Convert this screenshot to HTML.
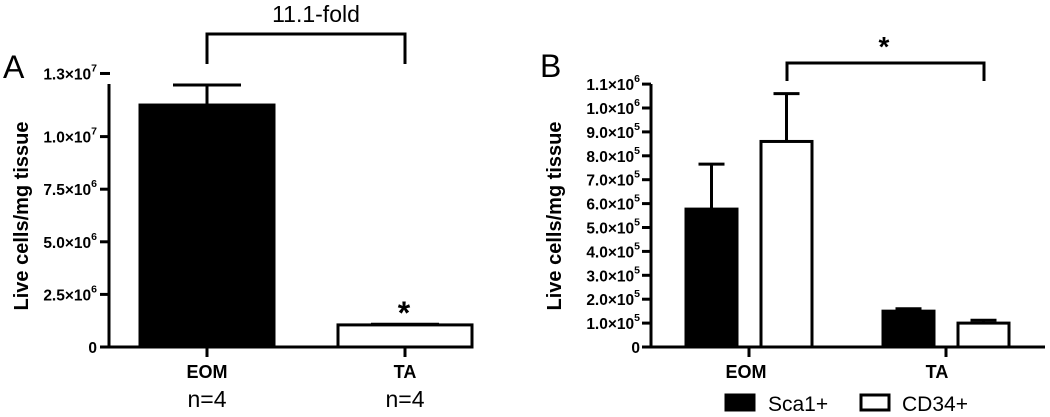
<!DOCTYPE html>
<html><head><meta charset="utf-8"><style>
body{margin:0;background:#fff}
svg text{font-family:"Liberation Sans",Arial,sans-serif}
</style></head><body>
<svg id="c" width="1050" height="412" xmlns="http://www.w3.org/2000/svg"></svg>
<script>
// Panel A data
const aCats=["EOM","TA"];
const aVals=[11.5e6,1.05e6];
const aErr=[0.95e6,0.03e6];
const aTicks=[0,2.5e6,5.0e6,7.5e6,1.0e7,1.3e7];
const aTickLabels=[["0",""],["2.5×10","6"],["5.0×10","6"],["7.5×10","6"],["1.0×10","7"],["1.3×10","7"]];
// Panel B data
const bCats=["EOM","TA"];
const bSeries=["Sca1+","CD34+"];
const bSca=[5.77e5,1.5e5];
const bScaErr=[1.88e5,0.1e5];
const bCd=[8.6e5,1.0e5];
const bCdErr=[2.0e5,0.12e5];
const bTicks=[0,1e5,2e5,3e5,4e5,5e5,6e5,7e5,8e5,9e5,1e6,1.1e6];

const svg=document.getElementById('c');
const NS='http://www.w3.org/2000/svg';
function mk(t,a,p){const e=document.createElementNS(NS,t);for(const k in a)e.setAttribute(k,a[k]);(p||svg).appendChild(e);return e;}
function txt(x,y,s,o,p){const e=mk('text',Object.assign({x:x,y:y},o||{}),p);e.textContent=s;return e;}

// ---- Panel A ----
const yA=v=>347-v/2.5e6*52.6;
const xA=[207,405];
const gA=mk('g',{});


let t=txt(3,78,"A",{'font-size':32},gA);

let yl=txt(0,0,"Live cells/mg tissue",{'font-size':20,'font-weight':'bold',transform:'translate(28,216) rotate(-90)','text-anchor':'middle'},gA);

aTicks.forEach((v,i)=>{
  const y=yA(v);
  const l=mk('line',{x1:100,x2:110,y1:y,y2:y,stroke:'#000','stroke-width':3},gA);
  
  const tt=mk('text',{x:97,y:y+6,'font-size':15.5,'font-weight':'bold','text-anchor':'end'},gA);
  
  tt.appendChild(document.createTextNode(aTickLabels[i][0]));
  if(aTickLabels[i][1]){const s=mk('tspan',{dy:-8,'font-size':10.5},tt);s.textContent=aTickLabels[i][1];}
});
aCats.forEach((c,i)=>{
  const x=xA[i],w=134,top=yA(aVals[i]);
  const e=mk('line',{x1:x,x2:x,y1:yA(aVals[i]+aErr[i]),y2:top,stroke:'#000','stroke-width':3},gA);
  
  const cap=mk('line',{x1:x-34,x2:x+34,y1:yA(aVals[i]+aErr[i]),y2:yA(aVals[i]+aErr[i]),stroke:'#000','stroke-width':3},gA);
  
  const r=mk('rect',{x:x-w/2,y:top,width:w,height:347-top,fill:i==0?'#000':'#fff',stroke:'#000','stroke-width':3},gA);
  
  const tk=mk('line',{x1:x,x2:x,y1:347,y2:357,stroke:'#000','stroke-width':3},gA);
  
  const cl=txt(x,378,c,{'font-size':18,'font-weight':'bold','text-anchor':'middle'},gA);
  
  const n=txt(x,407,"n=4",{'font-size':23,'text-anchor':'middle'},gA);
  
});
let ax=mk('path',{d:'M109,84 V347 H452',fill:'none',stroke:'#000','stroke-width':3},gA);

let br=mk('path',{d:`M${xA[0]},64 V34 H${xA[1]} V64`,fill:'none',stroke:'#000','stroke-width':3},gA);

let fl=txt(316,22,"11.1-fold",{'font-size':23,'text-anchor':'middle'},gA);

let st=txt(404,324,"*",{'font-size':32,'font-weight':'bold','text-anchor':'middle'},gA);


// ---- Panel B ----
const yB=v=>347-v/1e5*23.9;
const xB=[749,946];
const gB=mk('g',{});


t=txt(540,77,"B",{'font-size':32},gB);

yl=txt(0,0,"Live cells/mg tissue",{'font-size':20,'font-weight':'bold',transform:'translate(561,216) rotate(-90)','text-anchor':'middle'},gB);

bTicks.forEach(v=>{
  const y=yB(v);
  const l=mk('line',{x1:642,x2:651,y1:y,y2:y,stroke:'#000','stroke-width':3},gB);
  
  const tt=mk('text',{x:640,y:y+6,'font-size':15.5,'font-weight':'bold','text-anchor':'end'},gB);
  
  if(v===0){tt.textContent="0";}
  else{const e=Math.floor(Math.log10(v)+1e-9);tt.appendChild(document.createTextNode((v/Math.pow(10,e)).toFixed(1)+"×10"));const s=mk('tspan',{dy:-8,'font-size':10.5},tt);s.textContent=String(e);}
});
const bW=51;
bCats.forEach((c,i)=>{
  [[bSca,bScaErr,'#000',-37.5,'sca1'],[bCd,bCdErr,'#fff',37.5,'cd34']].forEach(([vals,errs,fill,off,nm])=>{
    const x=xB[i]+off,top=yB(vals[i]),et=yB(vals[i]+errs[i]);
    const e=mk('line',{x1:x,x2:x,y1:et,y2:top,stroke:'#000','stroke-width':3},gB);
    
    const cap=mk('line',{x1:x-13,x2:x+13,y1:et,y2:et,stroke:'#000','stroke-width':3},gB);
    
    const r=mk('rect',{x:x-bW/2,y:top,width:bW,height:347-top,fill:fill,stroke:'#000','stroke-width':3},gB);
    
  });
  const tk=mk('line',{x1:xB[i],x2:xB[i],y1:347,y2:357,stroke:'#000','stroke-width':3},gB);
  
  const cl=txt(xB[i]+(i?-9:-3),378,c,{'font-size':18,'font-weight':'bold','text-anchor':'middle'},gB);
  
});
ax=mk('path',{d:'M651,84 V347 H1045',fill:'none',stroke:'#000','stroke-width':3},gB);

br=mk('path',{d:'M787,81 V63 H984 V81',fill:'none',stroke:'#000','stroke-width':3},gB);

st=txt(884,56,"*",{'font-size':28,'font-weight':'bold','text-anchor':'middle'},gB);

// legend
const lg=mk('g',{});

[[725,'#000',768],[860,'#fff',902]].forEach((d,i)=>{
  const r=mk('rect',{x:d[0]+1,y:395,width:28,height:15,fill:d[1],stroke:'#000','stroke-width':3},lg);
  
  const tl=txt(d[2],411,bSeries[i],{'font-size':21},lg);
  
});
</script>
</body></html>
